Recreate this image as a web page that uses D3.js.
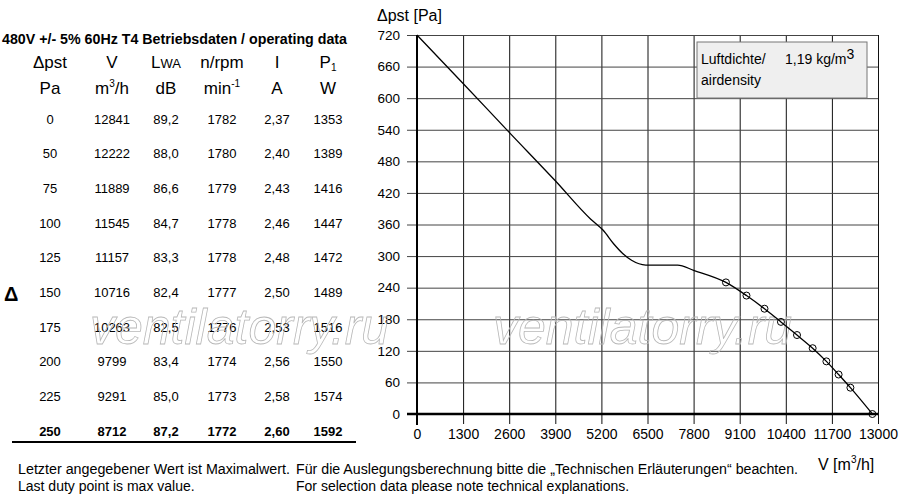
<!DOCTYPE html>
<html>
<head>
<meta charset="utf-8">
<script src="https://cdn.jsdelivr.net/npm/d3@7"></script>
<style>
  body { margin: 0; background: #fff; }
  svg { font-family: "Liberation Sans", Arial, sans-serif; }
</style>
</head>
<body>
<svg id="canvas" width="900" height="500"></svg>
<script>
// operating data table
const dp = [0, 50, 75, 100, 125, 150, 175, 200, 225, 250];
const flow = [12841, 12222, 11889, 11545, 11157, 10716, 10263, 9799, 9291, 8712];
const lwa = [89.2, 88.0, 86.6, 84.7, 83.3, 82.4, 82.5, 83.4, 85.0, 87.2];
const rpm = [1782, 1780, 1779, 1778, 1778, 1777, 1776, 1774, 1773, 1772];
const amp = [2.37, 2.40, 2.43, 2.46, 2.48, 2.50, 2.53, 2.56, 2.58, 2.60];
const power = [1353, 1389, 1416, 1447, 1472, 1489, 1516, 1550, 1574, 1592];

// characteristic curve left of the duty points
const curveV = [0, 1300, 2600, 3900, 4900, 5250, 5550, 5800, 6050, 6450, 7350, 7800];
const curveP = [720, 628, 535, 443, 370, 349, 323, 305, 292, 283, 283, 273];

const xTicks = [0, 1300, 2600, 3900, 5200, 6500, 7800, 9100, 10400, 11700, 13000];
const yTicks = [0, 60, 120, 180, 240, 300, 360, 420, 480, 540, 600, 660, 720];

const svg = d3.select("#canvas");

const comma = f => v => d3.format(f)(v).replace(".", ",");

// ---------- table ----------
const table = svg.append("g");

table.append("text")
  .attr("x", 2).attr("y", 44)
  .attr("font-size", 14).attr("font-weight", "bold")
  .attr("textLength", 345).attr("lengthAdjust", "spacingAndGlyphs")
  .text("480V +/- 5% 60Hz T4 Betriebsdaten / operating data");

const colX = [50, 112, 166, 222, 277, 328];

const head1 = table.append("g").attr("font-size", 17).attr("text-anchor", "middle");
head1.append("text").attr("x", colX[0]).attr("y", 68).text("Δpst");
head1.append("text").attr("x", colX[1]).attr("y", 68).text("V");
const lw = head1.append("text").attr("x", colX[2]).attr("y", 68);
lw.append("tspan").text("L");
lw.append("tspan").attr("font-size", 13).text("WA");
head1.append("text").attr("x", colX[3]).attr("y", 68).text("n/rpm");
head1.append("text").attr("x", colX[4]).attr("y", 68).text("I");
const p1 = head1.append("text").attr("x", colX[5]).attr("y", 68);
p1.append("tspan").text("P");
p1.append("tspan").attr("font-size", 10).attr("dy", 3).text("1");

const head2 = table.append("g").attr("font-size", 17).attr("text-anchor", "middle");
head2.append("text").attr("x", colX[0]).attr("y", 94).text("Pa");
const m3 = head2.append("text").attr("x", colX[1]).attr("y", 94);
m3.append("tspan").text("m");
m3.append("tspan").attr("font-size", 10).attr("dy", -7).text("3");
m3.append("tspan").attr("dy", 7).text("/h");
head2.append("text").attr("x", colX[2]).attr("y", 94).text("dB");
const mn = head2.append("text").attr("x", colX[3]).attr("y", 94);
mn.append("tspan").text("min");
mn.append("tspan").attr("font-size", 10).attr("dy", -7).text("-1");
head2.append("text").attr("x", colX[4]).attr("y", 94).text("A");
head2.append("text").attr("x", colX[5]).attr("y", 94).text("W");

const rowY = d3.scalePoint().domain(d3.range(dp.length)).range([119, 431]);

const cols = [
  { vals: dp, fmt: d3.format("d") },
  { vals: flow, fmt: d3.format("d") },
  { vals: lwa, fmt: comma(".1f") },
  { vals: rpm, fmt: d3.format("d") },
  { vals: amp, fmt: comma(".2f") },
  { vals: power, fmt: d3.format("d") }
];

cols.forEach((c, ci) => {
  table.append("g")
    .attr("font-size", 13)
    .attr("text-anchor", "middle")
    .selectAll("text")
    .data(c.vals)
    .join("text")
    .attr("x", colX[ci])
    .attr("y", (d, i) => rowY(i))
    .attr("dy", "0.36em")
    .attr("font-weight", (d, i) => i === c.vals.length - 1 ? "bold" : null)
    .text(c.fmt);
});

table.append("line")
  .attr("x1", 12).attr("x2", 356)
  .attr("y1", 442).attr("y2", 442)
  .attr("stroke", "#000").attr("stroke-width", 2);

table.append("text")
  .attr("x", 4).attr("y", 301)
  .attr("font-size", 20).attr("font-weight", "bold")
  .text("Δ");

// ---------- chart ----------
const x = d3.scaleLinear().domain([0, 13000]).range([417, 878]);
const y = d3.scaleLinear().domain([0, 720]).range([414, 35]);

const xAxis = svg.append("g")
  .attr("transform", "translate(0,424)")
  .call(d3.axisBottom(x).tickValues(xTicks).tickSize(-(424 - 35)).tickPadding(5).tickFormat(d3.format("d")));
xAxis.select(".domain").remove();
xAxis.selectAll("line").attr("stroke", "#111");
xAxis.selectAll("text").attr("font-size", 14).attr("fill", "#000");

const yAxis = svg.append("g")
  .attr("transform", "translate(407,0)")
  .call(d3.axisLeft(y).tickValues(yTicks).tickSize(-(878 - 407)).tickPadding(7).tickFormat(d3.format("d")));
yAxis.select(".domain").remove();
yAxis.selectAll("line").attr("stroke", "#444");
yAxis.selectAll("text").attr("font-size", 13.5).attr("fill", "#000");

// thick axis lines
svg.append("line")
  .attr("x1", x(0)).attr("x2", x(0))
  .attr("y1", y(720)).attr("y2", 425)
  .attr("stroke", "#000").attr("stroke-width", 2);
svg.append("line")
  .attr("x1", 407).attr("x2", x(13000))
  .attr("y1", y(0)).attr("y2", y(0))
  .attr("stroke", "#000").attr("stroke-width", 2.5);

// watermark
svg.append("g")
  .attr("font-size", 50).attr("font-style", "italic")
  .attr("fill", "none").attr("stroke", "#b8b8b8").attr("stroke-width", 0.8)
  .selectAll("text")
  .data([90, 493])
  .join("text")
  .attr("x", d => d).attr("y", 344)
  .text("ventilatorry.ru");

// curve
const duty = flow.map((v, i) => [v, dp[i]]).sort((a, b) => a[0] - b[0]);
const curve = curveV.map((v, i) => [v, curveP[i]]).concat(duty);

svg.append("path")
  .datum(curve)
  .attr("fill", "none")
  .attr("stroke", "#000")
  .attr("stroke-width", 1.3)
  .attr("d", d3.line().x(d => x(d[0])).y(d => y(d[1])).curve(d3.curveMonotoneX));

svg.append("g")
  .selectAll("circle")
  .data(duty)
  .join("circle")
  .attr("cx", d => x(d[0]))
  .attr("cy", d => y(d[1]))
  .attr("r", 3.5)
  .attr("fill", "none")
  .attr("stroke", "#000")
  .attr("stroke-width", 1);

// legend box
const lg = svg.append("g").attr("font-size", 14);
lg.append("rect")
  .attr("x", 697).attr("y", 42).attr("width", 170).attr("height", 56)
  .attr("fill", "#efefef").attr("stroke", "#777").attr("stroke-width", 1);
lg.append("text").attr("x", 701).attr("y", 64).text("Luftdichte/");
const dens = lg.append("text").attr("x", 785).attr("y", 64);
dens.append("tspan").text("1,19 kg/m");
dens.append("tspan").attr("dy", -5).text("3");
lg.append("text").attr("x", 701).attr("y", 85).text("airdensity");

// axis titles
svg.append("text").attr("x", 377).attr("y", 21).attr("font-size", 16).text("Δpst [Pa]");
const vt = svg.append("text").attr("x", 818).attr("y", 470).attr("font-size", 16);
vt.append("tspan").text("V [m");
vt.append("tspan").attr("font-size", 10).attr("dy", -7).text("3");
vt.append("tspan").attr("dy", 7).text("/h]");

// footer
const ft = svg.append("g").attr("font-size", 14);
ft.append("text").attr("x", 18).attr("y", 474).attr("textLength", 272).attr("lengthAdjust", "spacingAndGlyphs")
  .text("Letzter angegebener Wert ist Maximalwert.");
ft.append("text").attr("x", 18).attr("y", 491).text("Last duty point is max value.");
ft.append("text").attr("x", 296).attr("y", 474).attr("textLength", 502).attr("lengthAdjust", "spacingAndGlyphs")
  .text("Für die Auslegungsberechnung bitte die „Technischen Erläuterungen“ beachten.");
ft.append("text").attr("x", 296).attr("y", 491).text("For selection data please note technical explanations.");
</script>
</body>
</html>
